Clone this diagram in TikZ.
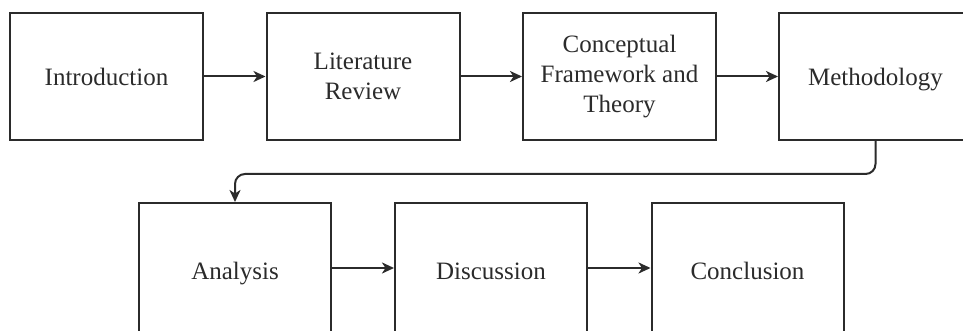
\documentclass[tikz,border=0pt]{standalone}
\usepackage{fontspec}
\setmainfont{Liberation Serif}
\usetikzlibrary{arrows.meta}
\definecolor{ink}{HTML}{2B2B2B}
\tikzset{
  box/.style={draw=ink, line width=2pt, minimum width=193pt, minimum height=127pt,
    inner sep=2pt, align=center, text=ink, font=\fontsize{25}{30}\selectfont},
  oneline/.style={text height=19pt, text depth=0pt},
  lowbox/.style={box, oneline, minimum width=192pt, minimum height=134pt},
  conn/.style={draw=ink, line width=2pt, -{Stealth[length=12pt,width=11pt,inset=3.5pt]}}
}
\begin{document}
\begin{tikzpicture}[x=1pt,y=-1pt]
\useasboundingbox (0,0) rectangle (963,331);
\fill[white] (0,0) rectangle (963,331);
\node[box, oneline] (intro) at (106.5,76.5) {Introduction};
\node[box] (lit) at (363,76.5) {Literature\\Review};
\node[box] (conc) at (619.5,76.5) {Conceptual\\Framework and\\Theory};
\node[box, oneline] (meth) at (875.5,76.5) {Methodology};
\node[lowbox] (ana) at (235,270) {Analysis};
\node[lowbox] (disc) at (491,270) {Discussion};
\node[lowbox] (concl) at (747.5,270) {Conclusion};
\draw[conn] (intro.east) -- (lit.west);
\draw[conn] (lit.east) -- (conc.west);
\draw[conn] (conc.east) -- (meth.west);
\draw[conn, rounded corners=10pt] (meth.south) -- ++(0,33) -| (ana.north);
\draw[conn] (ana.east |- 0,268) -- (disc.west |- 0,268);
\draw[conn] (disc.east |- 0,268) -- (concl.west |- 0,268);
\end{tikzpicture}
\end{document}
